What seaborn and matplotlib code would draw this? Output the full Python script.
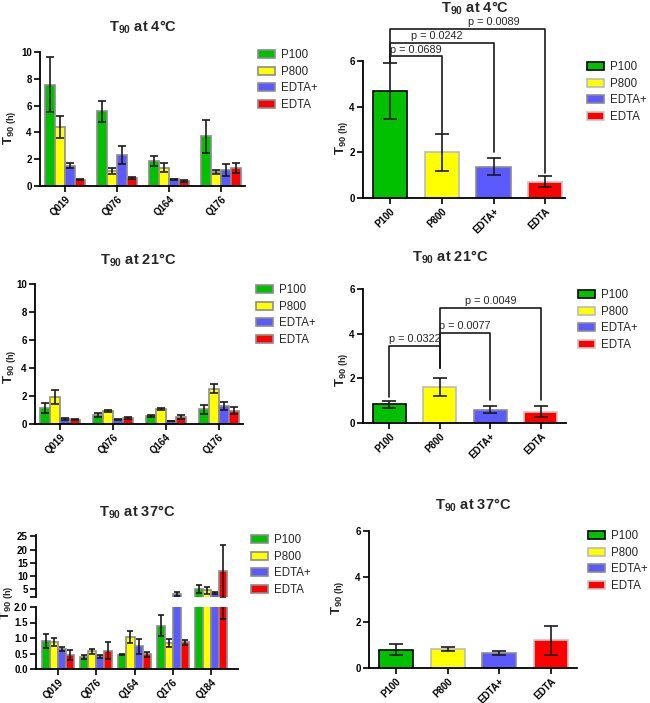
import numpy as np
import pandas as pd
import matplotlib
matplotlib.use("Agg")
import matplotlib.pyplot as plt
import seaborn as sns
from matplotlib.patches import Patch

sns.set_style("ticks")
plt.rcParams['font.family'] = ['Liberation Sans', 'DejaVu Sans']
plt.rcParams['mathtext.fontset'] = 'custom'
plt.rcParams['mathtext.rm'] = 'Liberation Sans'
plt.rcParams['mathtext.bf'] = 'Liberation Sans:bold'
plt.rcParams['mathtext.it'] = 'Liberation Sans:italic'

treatments = ["P100", "P800", "EDTA+", "EDTA"]
colors = ["#00C000", "#FFFF00", "#5A5AFF", "#FF0000"]
edge_left = "#8c8c8c"
edge_right = ["#000000", "#bcbcbc", "#8c8c8c", "#c8c8c8"]
ink = "#1a1a1a"

samples = ["Q019", "Q076", "Q164", "Q176"]
samples_37 = ["Q019", "Q076", "Q164", "Q176", "Q184"]

# per sample rows, columns = P100, P800, EDTA+, EDTA
t4_mean = [[7.56, 4.40, 1.52, 0.47],
           [5.57, 1.12, 2.29, 0.60],
           [1.89, 1.37, 0.50, 0.35],
           [3.70, 1.02, 1.17, 1.34]]
t4_err = [[2.07, 0.85, 0.16, 0.05],
          [0.80, 0.23, 0.67, 0.08],
          [0.37, 0.36, 0.05, 0.07],
          [1.20, 0.15, 0.44, 0.38]]

t21_mean = [[1.12, 1.96, 0.38, 0.31],
            [0.62, 0.93, 0.31, 0.45],
            [0.57, 1.05, 0.21, 0.52],
            [1.05, 2.53, 1.26, 0.95]]
t21_err = [[0.36, 0.50, 0.08, 0.05],
           [0.14, 0.05, 0.05, 0.07],
           [0.07, 0.07, 0.03, 0.15],
           [0.33, 0.35, 0.28, 0.24]]

t37_mean = [[0.90, 0.87, 0.65, 0.46],
            [0.38, 0.57, 0.41, 0.59],
            [0.46, 1.04, 0.73, 0.47],
            [1.39, 0.84, 3.00, 0.86],
            [5.20, 4.60, 3.60, 11.7]]
t37_err = [[0.22, 0.13, 0.06, 0.16],
           [0.07, 0.07, 0.04, 0.28],
           [0.02, 0.20, 0.25, 0.09],
           [0.34, 0.12, 0.80, 0.09],
           [1.50, 1.30, 0.35, 10.1]]

# pooled means per treatment
s4_mean = [4.70, 2.00, 1.37, 0.72]
s4_err = [1.23, 0.80, 0.36, 0.23]
s21_mean = [0.84, 1.63, 0.60, 0.51]
s21_err = [0.15, 0.40, 0.15, 0.25]
s37_mean = [0.80, 0.84, 0.64, 1.21]
s37_err = [0.24, 0.10, 0.09, 0.63]

# significance brackets: (i, j, height, foot_i, foot_j, label, label_x)
p4 = [(0, 1, 6.2, 5.95, 2.85, "p = 0.0689", 0.5),
      (0, 2, 6.8, 5.95, 2.0, "p = 0.0242", 0.9),
      (0, 3, 7.4, 5.95, 1.1, "p = 0.0089", 2.0)]
p21 = [(0, 1, 3.46, 1.17, 2.47, "p = 0.0322", 0.5),
       (1, 2, 4.05, 2.47, 1.02, "p = 0.0077", 1.5),
       (1, 3, 5.14, 2.47, 1.02, "p = 0.0049", 2.0)]

W, H = 650, 703
fig = plt.figure(figsize=(W / 100, H / 100), dpi=100)


def box(x0, y0, x1, y1):
    return [x0 / W, 1 - y1 / H, (x1 - x0) / W, (y1 - y0) / H]


def long_df(names, means, errs):
    rows = []
    for s, m_row, e_row in zip(names, means, errs):
        for t, m, e in zip(treatments, m_row, e_row):
            rows.append({"sample": s, "treatment": t, "T90": m, "err": e})
    return pd.DataFrame(rows)


def style(ax):
    sns.despine(ax=ax)
    for s in ["left", "bottom"]:
        ax.spines[s].set_linewidth(1.3)
        ax.spines[s].set_color("black")
    ax.tick_params(width=1.2, length=4, labelsize=7, colors="black", pad=2)
    ax.set_xlabel("")
    ax.set_ylabel("")
    for lab in ax.get_xticklabels():
        lab.set_rotation(45)
        lab.set_ha("right")
        lab.set_rotation_mode("anchor")
        lab.set_fontweight("bold")
    for lab in ax.get_yticklabels():
        lab.set_fontweight("bold")


def grouped(ax, df, width, capsize, lo=None):
    sns.barplot(data=df, x="sample", y="T90", hue="treatment", hue_order=treatments,
                palette=colors, saturation=1, errorbar=None, width=width,
                edgecolor=edge_left, linewidth=1.2, legend=False, ax=ax)
    for cont, t in zip(ax.containers, treatments):
        sub = df[df.treatment == t]
        xs = np.array([p.get_x() + p.get_width() / 2 for p in cont.patches])
        keep = np.ones(len(sub), bool)
        if lo is not None:
            keep = sub["T90"].to_numpy() >= lo
        ax.errorbar(xs[keep], sub["T90"][keep], yerr=sub["err"][keep], fmt="none",
                    ecolor=ink, elinewidth=1.2, capsize=capsize, capthick=1.2)


def summary(ax, means, errs):
    df = pd.DataFrame({"treatment": treatments, "T90": means})
    sns.barplot(data=df, x="treatment", y="T90", hue="treatment", hue_order=treatments,
                palette=colors, saturation=1, errorbar=None, width=0.66, linewidth=1.2,
                legend=False, ax=ax)
    for p, ec in zip(ax.patches, edge_right):
        p.set_edgecolor(ec)
    ax.errorbar(range(len(means)), means, yerr=errs, fmt="none", ecolor=ink,
                elinewidth=1.2, capsize=5, capthick=1.2)


def legend(ax, x, y_first, edges):
    handles = [Patch(facecolor=c, edgecolor=e, linewidth=1.2, label=t)
               for c, e, t in zip(colors, edges, treatments)]
    ax.legend(handles=handles, loc="upper left", bbox_to_anchor=(x / W, 1 - (y_first - 9) / H),
              bbox_transform=fig.transFigure, frameon=False, borderpad=0, borderaxespad=0,
              fontsize=8.3, handlelength=1.45, handleheight=0.7, handletextpad=0.55,
              labelspacing=0.4)


def title(x, y, text):
    fig.text(x / W, 1 - y / H, "T$_{\\mathbf{90}}$ at " + text, ha="center", va="center",
             fontsize=10.5, fontweight="bold")


def ylabel(x, y):
    fig.text(x / W, 1 - y / H, "T$_{\\mathbf{90\\ (h)}}$", rotation=90, ha="center",
             va="center", fontsize=9.5, fontweight="bold")


def brackets(ax, specs):
    for i, j, h, fi, fj, lab, tx in specs:
        ax.plot([i, i, j, j], [fi, h, h, fj], color=ink, lw=1.2, clip_on=False)
        ax.text(tx, h + 0.08, lab, ha="center", va="bottom", fontsize=7.8, clip_on=False)


# ---- 4 C ----
ax = fig.add_axes(box(40, 52, 245, 186))
grouped(ax, long_df(samples, t4_mean, t4_err), 0.76, 3)
ax.set_ylim(0, 10)
ax.set_yticks([0, 2, 4, 6, 8, 10])
ax.set_xlim(-0.48, 3.46)
style(ax)
ylabel(10, 128)
legend(ax, 258, 58, [edge_left] * 4)
title(143, 27, "4°C")

ax = fig.add_axes(box(363, 61, 565, 198))
summary(ax, s4_mean, s4_err)
ax.set_ylim(0, 6)
ax.set_yticks([0, 2, 4, 6])
ax.set_xlim(-0.52, 3.38)
style(ax)
ylabel(341, 138)
brackets(ax, p4)
legend(ax, 587, 70, edge_right)
title(475, 8, "4°C")

# ---- 21 C ----
ax = fig.add_axes(box(35, 284, 243, 424))
grouped(ax, long_df(samples, t21_mean, t21_err), 0.76, 3)
ax.set_ylim(0, 10)
ax.set_yticks([0, 2, 4, 6, 8, 10])
ax.set_xlim(-0.48, 3.46)
style(ax)
ylabel(10, 367)
legend(ax, 256, 293, [edge_left] * 4)
title(138, 260, "21°C")

ax = fig.add_axes(box(363, 289, 566, 423))
summary(ax, s21_mean, s21_err)
ax.set_ylim(0, 6)
ax.set_yticks([0, 2, 4, 6])
ax.set_xlim(-0.52, 3.5)
style(ax)
ylabel(341, 370)
brackets(ax, p21)
legend(ax, 578, 298, edge_right)
title(450, 257, "21°C")

# ---- 37 C, broken axis ----
df37 = long_df(samples_37, t37_mean, t37_err)
ax_hi = fig.add_axes(box(36, 535, 238, 597))
grouped(ax_hi, df37, 0.85, 2.5, lo=2)
ax_hi.set_ylim(2, 25.5)
ax_hi.set_yticks([2, 5, 10, 15, 20, 25])
ax_hi.set_xlim(-0.57, 4.7)
style(ax_hi)
ax_hi.set_yticklabels(["", "5", "10", "15", "20", "25"], fontweight="bold")
ax_hi.spines["bottom"].set_visible(False)
ax_hi.tick_params(axis="x", bottom=False, labelbottom=False)

ax_lo = fig.add_axes(box(36, 607, 238, 669))
grouped(ax_lo, df37, 0.85, 2.5)
ax_lo.set_ylim(0, 2)
ax_lo.set_yticks([0, 0.5, 1.0, 1.5, 2.0])
ax_lo.set_xlim(-0.57, 4.7)
style(ax_lo)
ax_lo.set_yticklabels(["0.0", "0.5", "1.0", "1.5", "2.0"], fontweight="bold")
ylabel(7, 603)
legend(ax_hi, 251, 543, [edge_left] * 4)
title(137, 512, "37°C")

ax = fig.add_axes(box(369, 531, 577, 668))
summary(ax, s37_mean, s37_err)
ax.set_ylim(0, 6)
ax.set_yticks([0, 2, 4, 6])
ax.set_xlim(-0.52, 3.5)
style(ax)
ylabel(338, 598)
legend(ax, 588, 539, edge_right)
title(473, 505, "37°C")

fig.savefig("out.png", dpi=100)
